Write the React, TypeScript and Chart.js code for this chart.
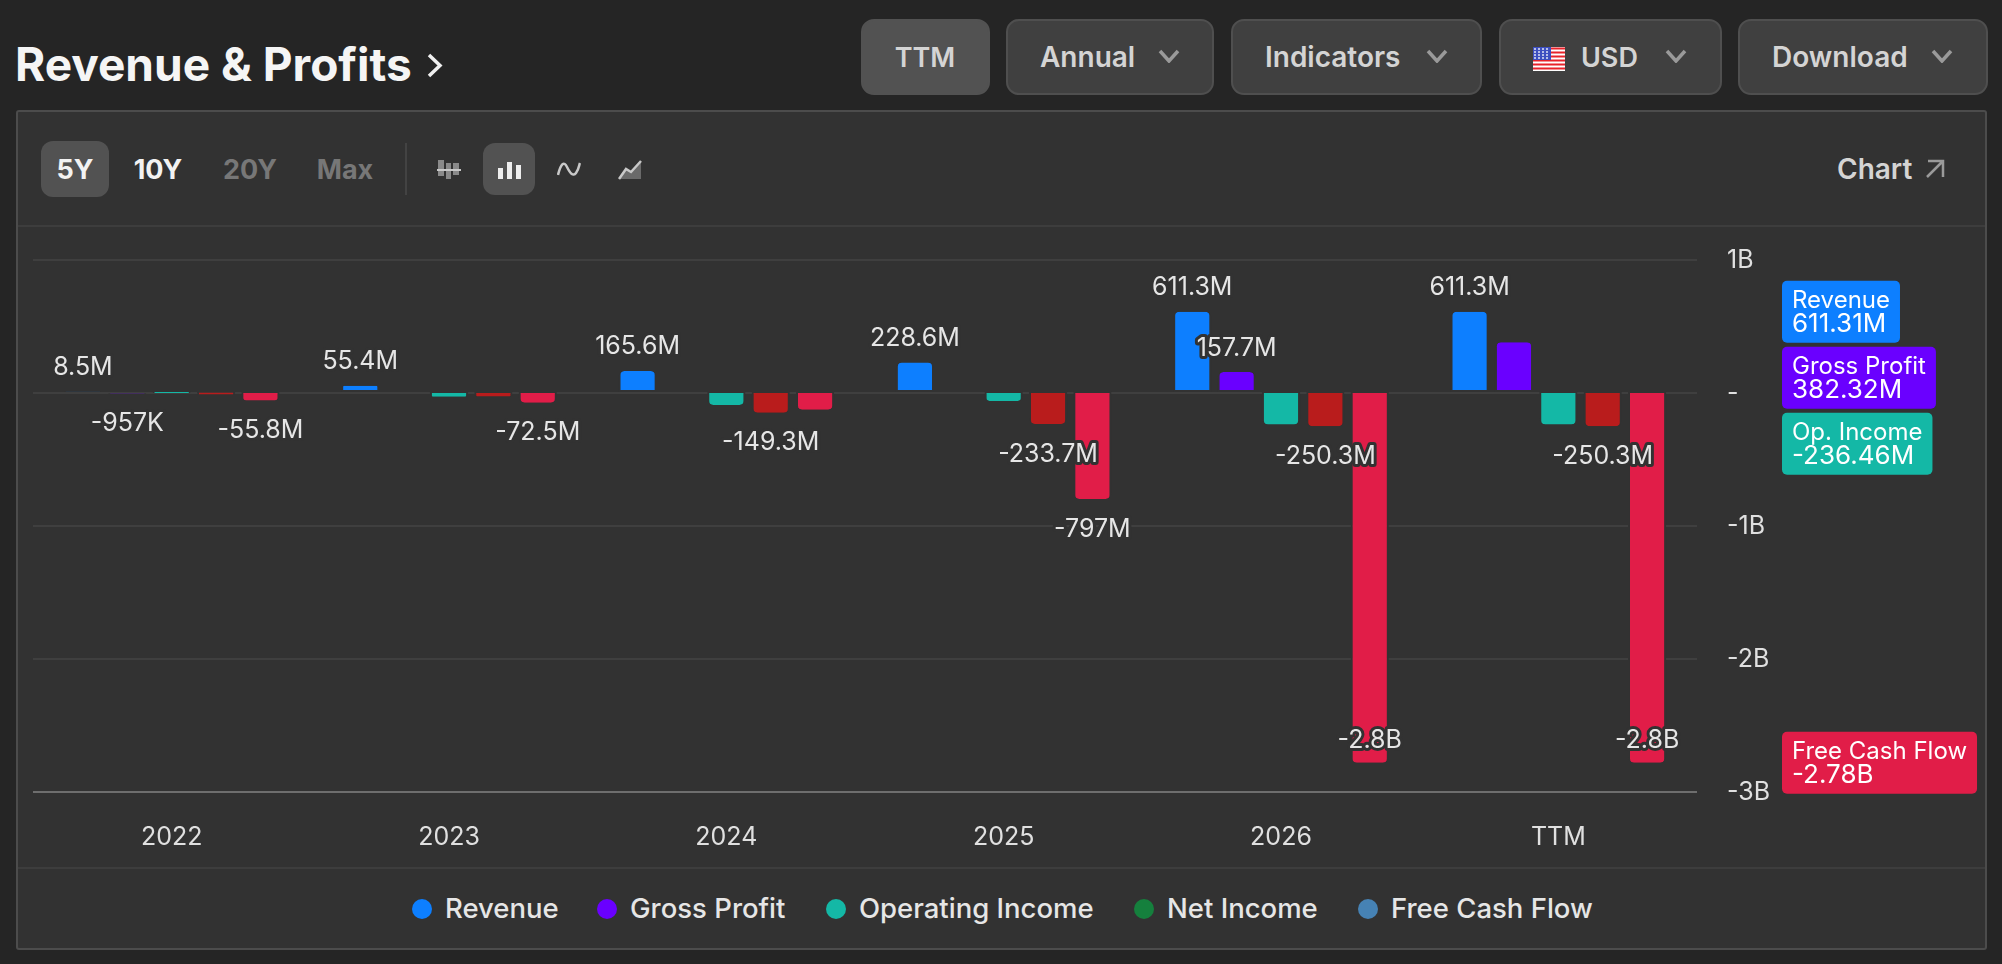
import { useEffect, useRef } from "react";
import { Chart, registerables } from "chart.js";

Chart.register(...registerables);

const PANEL = "#323232";
const FONT = "Inter, sans-serif";

const categories = ["2022", "2023", "2024", "2025", "2026", "TTM"];

const revenue = [8.5e6, 55.4e6, 165.6e6, 228.6e6, 611.3e6, 611.31e6];
const grossProfit = [-0.957e6, null, null, null, 157.7e6, 382.32e6];
const operatingIncome = [0, -28e6, -90e6, -60e6, -236.46e6, -236.46e6];
const netIncome = [-12e6, -26e6, -149.3e6, -233.7e6, -250.3e6, -250.3e6];
const freeCashFlow = [-55.8e6, -72.5e6, -125e6, -797e6, -2.78e9, -2.78e9];

// printed above/below the bars, empty = no label
const revenueLabels = ["8.5M", "55.4M", "165.6M", "228.6M", "611.3M", "611.3M"];
const grossLabels = ["-957K", "", "", "", "157.7M", ""];
const operatingLabels = ["", "", "", "", "", ""];
const netLabels = ["", "", "-149.3M", "-233.7M", "-250.3M", "-250.3M"];
const fcfLabels = ["-55.8M", "-72.5M", "", "-797M", "-2.8B", "-2.8B"];

const yTicks: Record<string, string> = { "1000000000": "1B", "0": "-", "-1000000000": "-1B", "-2000000000": "-2B", "-3000000000": "-3B" };

const tagNames = ["Revenue", "Gross Profit", "Op. Income", "Free Cash Flow"];
const tagTexts = ["611.31M", "382.32M", "-236.46M", "-2.78B"];
const tagValues = [611.31e6, 382.32e6, -236.46e6, -2.78e9];
const tagColors = ["#0d7fff", "#6a00ff", "#14b8a6", "#e11d48"];

const legendNames = ["Revenue", "Gross Profit", "Operating Income", "Net Income", "Free Cash Flow"];
const legendColors = ["#0d7fff", "#6a00ff", "#14b8a6", "#15803d", "#4682b4"];
const legendDots = [422, 607, 836, 1144, 1368];

//draws the value labels on top of the bars, with a dark halo
const barLabelPlugin = {
  id: "barLabels",
  afterDatasetsDraw(chart: any) {
    const ctx = chart.ctx;
    ctx.save();
    ctx.font = "25px " + FONT;
    ctx.textAlign = "center";
    ctx.textBaseline = "middle";
    ctx.lineJoin = "round";
    chart.data.datasets.forEach((ds: any, i: number) => {
      const meta = chart.getDatasetMeta(i);
      meta.data.forEach((bar: any, j: number) => {
        const text = ds.barLabels[j];
        if (!text) return;
        const negative = ds.data[j] < 0;
        let y = negative ? bar.y + 30 : bar.y - 24;
        if (y + 12 > chart.chartArea.bottom) y = bar.y - 22; //no room below, goes inside the bar
        ctx.strokeStyle = PANEL;
        ctx.lineWidth = 6;
        ctx.strokeText(text, bar.x, y);
        ctx.fillStyle = "#e6e6e6";
        ctx.fillText(text, bar.x, y);
      });
    });
    ctx.restore();
  },
};

//last value tags right of the axis, pushed down when they would overlap
const tagPlugin = {
  id: "lastValueTags",
  afterDraw(chart: any) {
    const ctx = chart.ctx;
    const scale = chart.scales.y;
    const left = chart.chartArea.right + 85;
    const h = 62;
    let lastBottom = -Infinity;
    ctx.save();
    ctx.textBaseline = "middle";
    ctx.textAlign = "left";
    tagNames.forEach((name, i) => {
      const top = Math.max(scale.getPixelForValue(tagValues[i]) - h / 2, lastBottom + 4);
      ctx.font = "24px " + FONT;
      const nameWidth = ctx.measureText(name).width;
      ctx.font = "26px " + FONT;
      const valueWidth = ctx.measureText(tagTexts[i]).width;
      const w = Math.max(nameWidth, valueWidth) + 20;
      ctx.fillStyle = tagColors[i];
      ctx.beginPath();
      ctx.roundRect(left, top, w, h, 5);
      ctx.fill();
      ctx.fillStyle = "#ffffff";
      ctx.font = "24px " + FONT;
      ctx.fillText(name, left + 10, top + 20);
      ctx.font = "26px " + FONT;
      ctx.fillText(tagTexts[i], left + 10, top + 43);
      lastBottom = top + h;
    });
    ctx.restore();
  },
};

const Chevron = ({ x }: { x: number }) => (
  <svg style={{ position: "absolute", left: x, top: 49, width: 22, height: 14 }} viewBox="0 0 22 14">
    <path d="M2 2 L11 12 L20 2" fill="none" stroke="#9a9a9a" strokeWidth="3.5" />
  </svg>
);

const Label = ({ x, y, size, weight, color, children }: any) => (
  <div style={{ position: "absolute", left: x, top: y, transform: "translateY(-50%)", fontSize: size, fontWeight: weight, color, whiteSpace: "nowrap", lineHeight: 1 }}>
    {children}
  </div>
);

const Centered = ({ x, y, size, weight, color, children }: any) => (
  <div style={{ position: "absolute", left: x, top: y, transform: "translate(-50%,-50%)", fontSize: size, fontWeight: weight, color, whiteSpace: "nowrap", lineHeight: 1 }}>
    {children}
  </div>
);

const Button = ({ x, w, bg, border }: any) => (
  <div style={{ position: "absolute", left: x, top: 19, width: w, height: 76, boxSizing: "border-box", background: bg, border: "2px solid " + border, borderRadius: 13 }} />
);

const Flag = () => (
  <svg style={{ position: "absolute", left: 1533, top: 47, width: 32, height: 24 }} viewBox="0 0 32 24">
    <rect width="32" height="24" fill="#fff" />
    {[0, 4, 8, 12, 16, 20].map((y) => <rect key={y} y={y + 0.5} width="32" height="2" fill="#e8222a" />)}
    <rect width="18" height="13" fill="#3d4fc0" />
    {[2, 5, 8, 11].map((y) => [2, 6, 10, 14].map((x) => <circle key={x + "-" + y} cx={x} cy={y} r="1" fill="#dfe3f5" />))}
  </svg>
);

const Panel = () => (
  <>
    <div style={{ position: "absolute", left: 16, top: 110, width: 1971, height: 840, boxSizing: "border-box", background: PANEL, border: "2px solid #4c4c4c", borderRadius: 3 }} />
    <div style={{ position: "absolute", left: 18, top: 225, width: 1967, height: 2, background: "#3d3d3d" }} />
    <div style={{ position: "absolute", left: 18, top: 867, width: 1967, height: 2, background: "#3d3d3d" }} />
  </>
);

const Toolbar = () => (
  <>
    <div style={{ position: "absolute", left: 41, top: 141, width: 68, height: 56, background: "#525252", borderRadius: 12 }} />
    <Centered x={75} y={169} size={27} weight={700} color="#f2f2f2">5Y</Centered>
    <Centered x={158} y={169} size={27} weight={700} color="#f2f2f2">10Y</Centered>
    <Centered x={250} y={169} size={27} weight={700} color="#777777">20Y</Centered>
    <Centered x={345} y={169} size={27} weight={700} color="#777777">Max</Centered>
    <div style={{ position: "absolute", left: 405, top: 143, width: 2, height: 52, background: "#434343" }} />
    <svg style={{ position: "absolute", left: 437, top: 159, width: 24, height: 20 }} viewBox="0 0 24 20">
      <rect x="1" y="1" width="6" height="16" fill="#8a8a8a" />
      <rect x="9" y="4" width="5" height="16" fill="#8a8a8a" />
      <rect x="16" y="4" width="6" height="12" fill="#8a8a8a" />
      <rect x="0" y="10" width="24" height="2" fill="#c8c8c8" />
    </svg>
    <div style={{ position: "absolute", left: 483, top: 143, width: 52, height: 52, background: "#525252", borderRadius: 12 }} />
    <svg style={{ position: "absolute", left: 498, top: 162, width: 23, height: 17 }} viewBox="0 0 23 17">
      <rect x="0" y="6" width="5" height="11" fill="#eeeeee" />
      <rect x="9" y="0" width="5" height="17" fill="#eeeeee" />
      <rect x="18" y="3" width="5" height="14" fill="#eeeeee" />
    </svg>
    <svg style={{ position: "absolute", left: 557, top: 161, width: 24, height: 16 }} viewBox="0 0 24 16">
      <path d="M1 14 C4 2 7 0 10 6 S 16 16 19 12 S 22 4 23 2" fill="none" stroke="#c8c8c8" strokeWidth="2.5" />
    </svg>
    <svg style={{ position: "absolute", left: 618, top: 159, width: 24, height: 21 }} viewBox="0 0 24 21">
      <path d="M1 20 L8 10 L13 13 L23 2 V20 Z" fill="#6a6a6a" />
      <path d="M1 20 L8 10 L13 13 L23 2" fill="none" stroke="#c8c8c8" strokeWidth="2.5" />
    </svg>
    <Label x={1837} y={169} size={28} weight={600} color="#d4d4d4">Chart</Label>
    <svg style={{ position: "absolute", left: 1925, top: 159, width: 20, height: 20 }} viewBox="0 0 20 20">
      <path d="M3 2 H18 V18 M18 2 L2 18" fill="none" stroke="#9a9a9a" strokeWidth="2.5" />
    </svg>
  </>
);

const Header = () => (
  <>
    <Label x={15} y={64} size={46} weight={700} color="#f5f5f5">Revenue &amp; Profits</Label>
    <svg style={{ position: "absolute", left: 427, top: 53, width: 16, height: 25 }} viewBox="0 0 16 25">
      <path d="M2 2 L13 12.5 L2 23" fill="none" stroke="#f0f0f0" strokeWidth="3.5" />
    </svg>
    <Button x={861} w={129} bg="#525252" border="#525252" />
    <Centered x={925} y={57} size={27} weight={600} color="#d4d4d4">TTM</Centered>
    <Button x={1006} w={208} bg="#404040" border="#4f4f4f" />
    <Label x={1040} y={57} size={28} weight={600} color="#d4d4d4">Annual</Label>
    <Chevron x={1158} />
    <Button x={1231} w={251} bg="#404040" border="#4f4f4f" />
    <Label x={1265} y={57} size={28} weight={600} color="#d4d4d4">Indicators</Label>
    <Chevron x={1426} />
    <Button x={1499} w={223} bg="#404040" border="#4f4f4f" />
    <Flag />
    <Label x={1581} y={57} size={27} weight={600} color="#d4d4d4">USD</Label>
    <Chevron x={1665} />
    <Button x={1738} w={250} bg="#404040" border="#4f4f4f" />
    <Label x={1772} y={57} size={28} weight={600} color="#d4d4d4">Download</Label>
    <Chevron x={1931} />
  </>
);

const Legend = () => (
  <>
    {legendNames.map((name, i) => (
      <div key={name}>
        <div style={{ position: "absolute", left: legendDots[i] - 10, top: 899, width: 20, height: 20, borderRadius: 10, background: legendColors[i] }} />
        <Label x={legendDots[i] + 23} y={909} size={27.5} weight={500} color="#e6e6e6">{name}</Label>
      </div>
    ))}
  </>
);

const App = () => {
  const canvasRef = useRef<HTMLCanvasElement | null>(null);

  useEffect(() => {
    if (!canvasRef.current) return;
    document.body.style.margin = "0";

    //positive bars end just above the zero line, negative ones cover it.
    //the panel coloured border makes the small gaps in the grid next to each bar
    const up = {
      base: 0,
      borderWidth: { top: 0, left: 2, right: 2, bottom: 2 },
      borderRadius: { topLeft: 6, topRight: 6, bottomLeft: 0, bottomRight: 0 },
    };
    const down = {
      base: 15e6,
      borderWidth: { top: 2, left: 2, right: 2, bottom: 0 },
      borderRadius: { topLeft: 0, topRight: 0, bottomLeft: 6, bottomRight: 6 },
    };
    const common = { borderColor: PANEL, borderSkipped: false, categoryPercentage: 0.8, barPercentage: 0.86 };

    const chart = new Chart(canvasRef.current, {
      type: "bar",
      plugins: [barLabelPlugin, tagPlugin],
      data: {
        labels: categories,
        datasets: [
          { label: "Revenue", data: revenue, backgroundColor: "#0d7fff", barLabels: revenueLabels, ...common, ...up },
          { label: "Gross Profit", data: grossProfit, backgroundColor: "#6a00ff", barLabels: grossLabels, ...common, ...up },
          { label: "Operating Income", data: operatingIncome, backgroundColor: "#14b8a6", barLabels: operatingLabels, ...common, ...down },
          { label: "Net Income", data: netIncome, backgroundColor: "#b91c1c", barLabels: netLabels, ...common, ...down },
          { label: "Free Cash Flow", data: freeCashFlow, backgroundColor: "#e11d48", barLabels: fcfLabels, ...common, ...down },
        ] as any,
      },
      options: {
        responsive: false,
        animation: false,
        layout: { padding: { left: 15, top: 32, right: 0, bottom: 0 } },
        plugins: { legend: { display: false }, tooltip: { enabled: false } },
        scales: {
          x: {
            grid: { display: false },
            border: { display: false },
            ticks: { color: "#e0e0e0", font: { family: FONT, size: 25 }, padding: 22, maxRotation: 0 },
            afterFit: (scale: any) => { scale.height = 76; },
          },
          y: {
            position: "right",
            min: -3e9,
            max: 1e9,
            border: { display: false },
            grid: {
              drawTicks: false,
              lineWidth: 2,
              color: (c: any) => (c.tick.value === -3e9 ? "#6e6e6e" : "#3f3f3f"),
            },
            ticks: {
              stepSize: 1e9,
              color: "#e0e0e0",
              font: { family: FONT, size: 25 },
              padding: 30,
              callback: (v: any) => yTicks[String(v)],
            },
            afterFit: (scale: any) => {
              scale.width = 288;
              //tick padding also ends up above and below the axis otherwise
              scale.paddingTop = 0;
              scale.paddingBottom = 0;
            },
          },
        },
      } as any,
    });

    return () => {
      chart.destroy();
    };
  }, []);

  return (
    <div style={{ position: "fixed", left: 0, top: 0, width: 2002, height: 964, background: "#252525", fontFamily: FONT, overflow: "hidden" }}>
      <Header />
      <Panel />
      <Toolbar />
      <canvas ref={canvasRef} width={1967} height={640} style={{ position: "absolute", left: 18, top: 228, width: 1967, height: 640 }} />
      <Legend />
    </div>
  );
};

export default App;
